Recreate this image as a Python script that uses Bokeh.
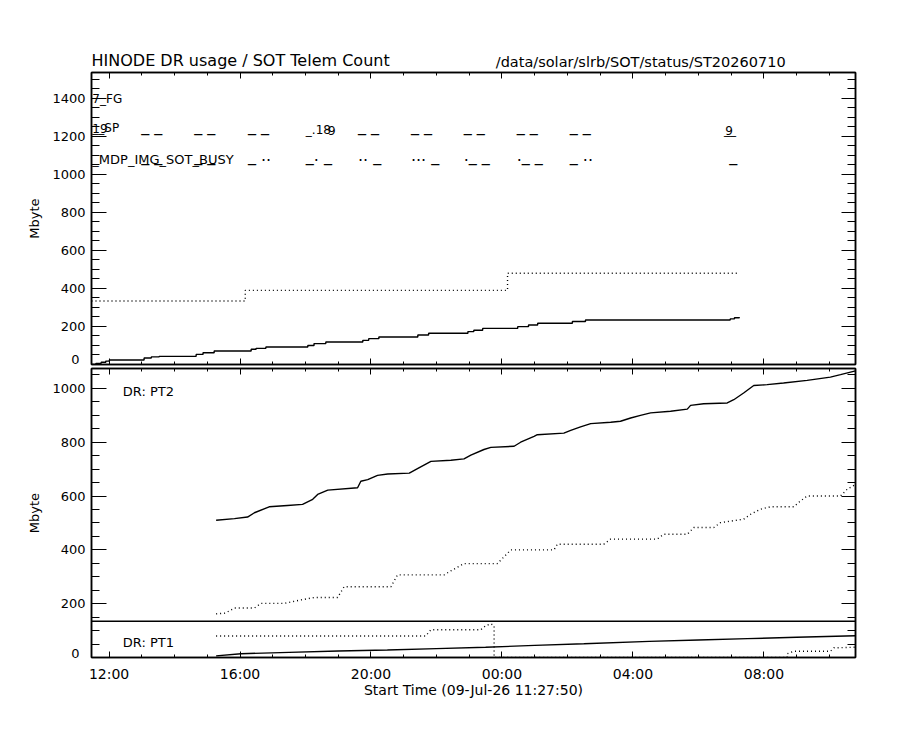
from bokeh.plotting import figure
from bokeh.models import (Range1d, FixedTicker, SingleIntervalTicker, LinearAxis,
                          Label, Span, ColumnDataSource, CustomJSTickFormatter)
from bokeh.layouts import column
from bokeh.embed import file_html
from bokeh.resources import INLINE
from bokeh.core.properties import value

FONT = "DejaVu Sans"

# ---- time axis (hours since 09-Jul-26 00:00) ----
T_START = 11 + 27 / 60 + 50 / 3600          # 11:27:50
T_END = T_START + 23 + 20 / 60
x_major = [12, 16, 20, 24, 28, 32]
x_labels = ["12:00", "16:00", "20:00", "00:00", "04:00", "08:00"]
x_minor = list(range(12, 35))
y_top_max = 1536
y_bot_max = 1074

title_left = "HINODE DR usage / SOT Telem Count"
title_right = "/data/solar/slrb/SOT/status/ST20260710"
title_right_t = 23.81
x_title = "Start Time (09-Jul-26 11:27:50)"

# ---- top panel: SOT telemetry count (Mbyte) ----
top_solid_t = [11.464, 11.60, 11.76, 11.90, 12.01, 13.07, 13.29, 13.53, 14.66, 14.87, 15.21,
               16.34, 16.49, 16.79, 18.07, 18.26, 18.62, 19.75, 19.93, 20.24, 21.43, 21.76,
               22.96, 23.14, 23.41, 24.48, 24.81, 25.09, 26.15, 26.55, 30.97, 31.10, 31.25]
top_solid_v = [0, 6, 12, 18, 24, 34, 40, 43, 53, 62, 71,
               80, 85, 92, 100, 110, 118, 127, 136, 145, 155, 164,
               173, 180, 190, 199, 208, 217, 226, 234, 240, 246, 248]
top_dot_t = [11.464, 16.16, 24.17, 31.26]
top_dot_v = [334, 390, 480, 480]

# event annotations in top panel
ev_row0_t = [11.49]
ev_row0_txt = ["7_FG"]
ev_row0_y = 1397
ev_row1_lbl_t = [11.49, 11.49]
ev_row1_lbl_txt = ["19", "__SP"]
ev_row1_y = 1243
ev_row1_t = [12.98, 14.60, 16.24, 19.60, 21.22, 22.83, 24.45, 26.07]
ev_row1_txt = ["_ _"] * 8
ev_row1b_t = [18.01, 18.69, 30.82, 30.78]
ev_row1b_txt = ["_.18", "9", "9", "__"]
ev_row2_lbl_t = [11.49]
ev_row2_lbl_txt = ["_MDP_IMG_SOT_BUSY"]
ev_row2_lbl_y = 1076
ev_row2_t = [12.98, 14.60, 16.24, 18.01, 19.60, 21.22, 22.83, 24.45, 26.07, 30.94]
ev_row2_txt = ["_ _", "_ _", "_ ..", "_. _", ".. _", "... _", "._ _", "._ _", "_ ..", "_"]
ev_row2_y = 1100

# ---- bottom panel: DR partitions (Mbyte) ----
pt2_solid_t = [15.27, 15.83, 16.23, 16.44, 16.89, 17.45, 17.91, 18.22, 18.37, 18.68, 19.59,
               19.69, 19.90, 20.20, 20.51, 21.17, 21.42, 21.83, 22.44, 22.84, 23.05, 23.45,
               23.66, 24.37, 24.57, 24.98, 25.08, 25.89, 26.10, 26.40, 26.71, 27.32, 27.62,
               27.93, 28.23, 28.54, 29.15, 29.66, 29.76, 30.16, 30.88, 31.08, 31.38, 31.69,
               32.10, 32.60, 33.32, 34.03, 34.34, 34.797]
pt2_solid_v = [510, 516, 522, 538, 560, 565, 569, 588, 606, 622, 631,
               655, 661, 677, 682, 685, 702, 729, 733, 738, 752, 773,
               781, 785, 800, 822, 828, 834, 844, 857, 869, 874, 878,
               890, 900, 909, 915, 923, 937, 943, 946, 958, 983, 1011,
               1014, 1020, 1030, 1042, 1051, 1065]
pt2_dot_t = [15.27, 15.55, 15.83, 16.44, 16.64, 17.35, 17.86, 18.27, 18.98, 19.18,
             20.61, 20.81, 22.23, 22.44, 22.84, 23.86, 24.27, 25.59, 25.69, 27.11,
             27.32, 28.74, 28.94, 29.66, 29.86, 30.47, 30.67, 31.38, 31.59, 31.89,
             32.20, 32.91, 33.11, 33.32, 34.34, 34.54, 34.797]
pt2_dot_v = [162, 165, 184, 184, 201, 201, 214, 223, 223, 263,
             263, 307, 307, 322, 349, 349, 400, 400, 421, 421,
             440, 440, 458, 458, 483, 483, 501, 514, 532, 551,
             560, 560, 581, 600, 600, 625, 643]
pt1_solid_t = [15.27, 16.03, 17.5, 19.0, 20.5, 22.0, 23.5, 25.0, 26.5, 28.5, 30.0, 31.5, 33.0, 34.797]
pt1_solid_v = [6, 14, 19, 24, 28, 33, 38, 45, 51, 60, 65, 70, 75, 81]
pt1_dot_t = [15.27, 21.67, 21.83, 23.35, 23.50, 23.66, 23.76, 23.76, 32.71, 32.71, 32.91, 34.03, 34.14, 34.797]
pt1_dot_v = [80, 80, 103, 103, 118, 125, 118, 0, 0, 14, 23, 23, 36, 38]
PT1_BOX_TOP = 134.4


def style_axis(ax, major_in, minor_in, labels=True, size="13px", standoff=6):
    ax.major_tick_in = major_in
    ax.major_tick_out = 0
    ax.minor_tick_in = minor_in
    ax.minor_tick_out = 0
    ax.axis_line_color = "black"
    ax.axis_line_width = 1.5
    ax.major_tick_line_color = "black"
    ax.minor_tick_line_color = "black"
    ax.major_tick_line_width = 1
    ax.minor_tick_line_width = 1
    ax.major_label_text_font = FONT
    ax.major_label_text_font_size = size
    ax.major_label_text_color = "black"
    if labels:
        ax.major_label_standoff = standoff
    else:
        ax.formatter = CustomJSTickFormatter(code="return ''")
        ax.major_label_standoff = 0
    ax.axis_label_text_font = FONT
    ax.axis_label_text_font_style = "normal"
    ax.axis_label_text_color = "black"


def make_fig(height, ymax, top, bottom, zero_lift_px, px_per_unit):
    p = figure(width=880, height=height, x_range=Range1d(T_START, T_END),
               y_range=Range1d(0, ymax), output_backend="svg", toolbar_location=None,
               min_border_left=91, min_border_right=25, min_border_top=top,
               min_border_bottom=bottom)
    p.grid.visible = False
    p.outline_line_color = "black"
    p.outline_line_width = 1.5
    p.background_fill_color = "white"
    p.border_fill_color = "white"
    xt = FixedTicker(ticks=x_major, minor_ticks=x_minor)
    yt = SingleIntervalTicker(interval=200, num_minor_ticks=4)
    below = p.below[0]
    left = p.left[0]
    below.ticker = xt
    left.ticker = yt
    style_axis(left, 15, 8, labels=True, size="13px", standoff=6)
    left.formatter = CustomJSTickFormatter(
        code="return Math.abs(tick) < 1e-9 ? '' : tick.toFixed(0)")
    left.axis_label = "Mbyte"
    left.axis_label_text_font_size = "13px"
    left.axis_label_standoff = 7
    # the "0" label sits a little above the frame corner (as in the IDL plot)
    d = zero_lift_px / px_per_unit
    p.extra_y_ranges = {"zero": Range1d(-d, ymax - d)}
    zero_ax = LinearAxis(y_range_name="zero", ticker=FixedTicker(ticks=[0]))
    style_axis(zero_ax, 0, 0, labels=True, size="13px", standoff=-55)
    zero_ax.axis_line_color = None
    zero_ax.major_tick_line_color = None
    zero_ax.minor_tick_line_color = None
    p.add_layout(zero_ax, "left")
    above = LinearAxis(ticker=xt)
    style_axis(above, 6, 3, labels=False)
    p.add_layout(above, "above")
    right = LinearAxis(ticker=yt)
    style_axis(right, 14, 8, labels=False)
    p.add_layout(right, "right")
    return p, below


def add_text(p, xs, texts, y, size, baseline="alphabetic"):
    src = ColumnDataSource(dict(x=xs, y=[y] * len(xs), t=texts))
    p.text(x="x", y="y", text="t", source=src, text_font=value(FONT),
           text_font_size=value(size), text_color="black", text_baseline=baseline,
           text_align="left")


# ---------------- title strip ----------------
pt = figure(width=880, height=71, x_range=Range1d(T_START, T_END), y_range=Range1d(0, 71),
            output_backend="svg", toolbar_location=None, x_axis_location=None,
            y_axis_location=None, min_border_left=91, min_border_right=25,
            min_border_top=0, min_border_bottom=0)
pt.grid.visible = False
pt.outline_line_color = None
add_text(pt, [T_START], [title_left], 2, "16px", baseline="bottom")
add_text(pt, [title_right_t], [title_right], 2, "14.5px", baseline="bottom")

# ---------------- top figure ----------------
p1, b1 = make_fig(296, y_top_max, 1, 3, 5, 292 / y_top_max)
style_axis(b1, 6, 3, labels=False)

p1.step(top_solid_t, top_solid_v, mode="after", line_color="black", line_width=1.4)
p1.step(top_dot_t, top_dot_v, mode="after", line_color="black", line_width=1.4, line_dash="1 3")

add_text(p1, ev_row0_t, ev_row0_txt, ev_row0_y, "12px")
add_text(p1, ev_row1_lbl_t, ev_row1_lbl_txt, ev_row1_y, "12px")
add_text(p1, ev_row1_t, ev_row1_txt, ev_row1_y + 15, "16px")
add_text(p1, ev_row1b_t, ev_row1b_txt, ev_row1_y - 10, "12px")
add_text(p1, ev_row2_lbl_t, ev_row2_lbl_txt, ev_row2_lbl_y, "13px")
add_text(p1, ev_row2_t, ev_row2_txt, ev_row2_y, "16px")

# ---------------- bottom figure ----------------
p2, b2 = make_fig(335, y_bot_max, 1, 45, 4, 289 / y_bot_max)
style_axis(b2, 6, 3, labels=True, size="14px", standoff=8)
b2.major_label_overrides = {float(k): v for k, v in zip(x_major, x_labels)}
b2.axis_label = x_title
b2.axis_label_text_font_size = "14px"
b2.axis_label_standoff = -3

p2.line(pt2_solid_t, pt2_solid_v, line_color="black", line_width=1.4)
p2.line(pt2_dot_t, pt2_dot_v, line_color="black", line_width=1.4, line_dash="1 3")
p2.line(pt1_solid_t, pt1_solid_v, line_color="black", line_width=1.4)
p2.line(pt1_dot_t, pt1_dot_v, line_color="black", line_width=1.4, line_dash="1 3")
p2.add_layout(Span(location=PT1_BOX_TOP, dimension="width", line_color="black", line_width=1.5))
p2.add_layout(Label(x=12.42, y=989, text="DR: PT2", text_font=FONT, text_font_size="13px",
                    text_color="black", text_baseline="alphabetic"))
p2.add_layout(Label(x=12.42, y=57, text="DR: PT1", text_font=FONT, text_font_size="13px",
                    text_color="black", text_baseline="alphabetic"))

layout = column(pt, p1, p2, spacing=0)
open("out.html", "w").write(file_html(layout, INLINE))
